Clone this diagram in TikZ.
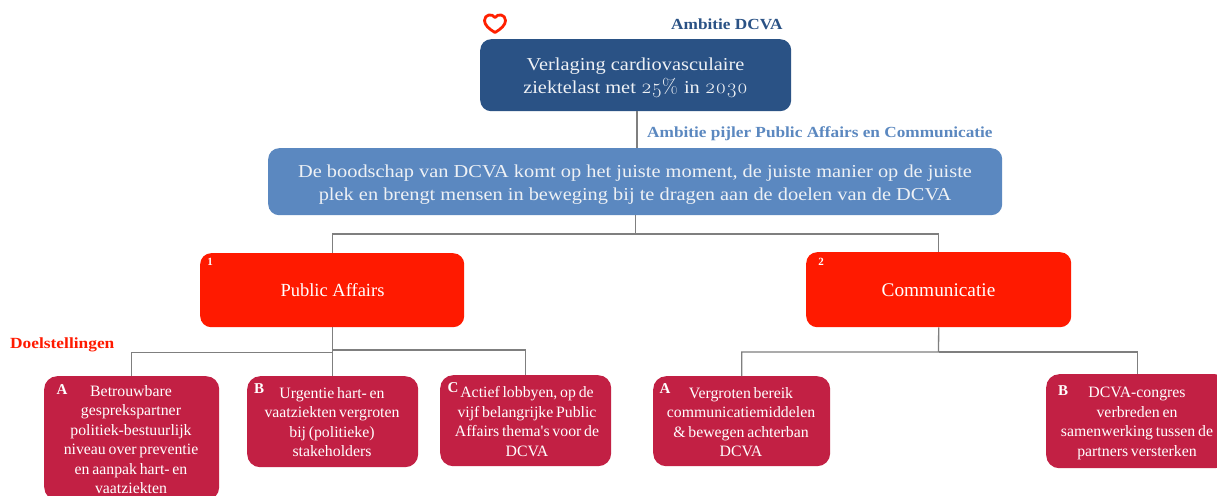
\documentclass[tikz,border=0pt]{standalone}
\usepackage{fontspec}
\setmainfont{Liberation Serif}
\newfontfamily\widefont[FakeStretch=1.12]{Liberation Serif}
\newfontfamily\goalfont[WordSpace=0.7]{Liberation Serif}
\newfontfamily\oldnums[Numbers=OldStyle,Scale=1.12]{Latin Modern Roman}
\definecolor{navy}{HTML}{2A5285}
\definecolor{midblue}{HTML}{5B88C0}
\definecolor{brightred}{HTML}{FF1A00}
\definecolor{crimson}{HTML}{C22044}
\definecolor{linegrey}{HTML}{7F7F7F}
\tikzset{
  x=1pt,y=-1pt,
  boxbase/.style={rounded corners=11pt,inner sep=0pt,anchor=north west},
  navybox/.style={boxbase,fill=navy},
  bluebox/.style={boxbase,fill=midblue},
  redbox/.style={boxbase,fill=brightred},
  goalbox/.style={boxbase,fill=crimson,rounded corners=13pt},
  headtext/.style={inner sep=0pt,align=center,text=white!92!navy,font=\widefont\fontsize{18.2}{23}\selectfont},
  redtext/.style={inner sep=0pt,text=white},
  goaltext/.style={inner sep=0pt,align=center,text=white,anchor=north,font=\goalfont\fontsize{15.8}{19.5}\selectfont},
  letter/.style={text=white,font=\bfseries\fontsize{15}{15}\selectfont,inner sep=0pt},
  numlabel/.style={text=white,font=\bfseries\fontsize{11}{11}\selectfont,inner sep=0pt},
  heading/.style={font=\bfseries\widefont\fontsize{15.4}{17}\selectfont,inner sep=0pt,anchor=west},
  wire/.style={draw=linegrey,line width=1.3pt},
}
\begin{document}
\begin{tikzpicture}
\useasboundingbox (0,0) rectangle (1217,495);
\fill[white] (0,0) rectangle (1217,495);

\node[navybox,minimum width=311pt,minimum height=72pt] (top) at (480,39) {};
\node[bluebox,minimum width=734pt,minimum height=67pt] (mid) at (268,148) {};
\node[redbox,minimum width=264pt,minimum height=74pt] (pa) at (200,253) {};
\node[redbox,minimum width=265pt,minimum height=75pt] (comm) at (806,252) {};
\node[goalbox,minimum width=175pt,minimum height=124pt] (ga) at (44,376) {};
\node[goalbox,minimum width=171pt,minimum height=91pt] (gb) at (247,376) {};
\node[goalbox,minimum width=171pt,minimum height=91pt] (gc) at (440,375) {};
\node[goalbox,minimum width=177pt,minimum height=90pt] (ha) at (653,376) {};
\node[goalbox,minimum width=182pt,minimum height=94pt] (hb) at (1046,374) {};

\node[headtext] (topt) at (635.5,78) {Verlaging cardiovasculaire\\ziektelast met {\oldnums 25\% }in {\oldnums 2030}};
\node[headtext] (midt) at (635,185) {De boodschap van DCVA komt op het juiste moment, de juiste manier op de juiste\\plek en brengt mensen in beweging bij te dragen aan de doelen van de DCVA};
\node[redtext,font=\fontsize{18.5}{20}\selectfont] (pat) at (332.5,290) {Public Affairs};
\node[redtext,font=\fontsize{19.3}{20}\selectfont] (commt) at (938.5,290) {Communicatie};

\node[goaltext] (gat) at (131,385) {Betrouwbare\\gesprekspartner\\politiek-bestuurlijk\\niveau over preventie\\en aanpak hart- en\\vaatziekten};
\node[goaltext] (gbt) at (332,387) {Urgentie hart- en\\vaatziekten vergroten\\bij (politieke)\\stakeholders};
\node[goaltext] (gct) at (527,386.5) {Actief lobbyen, op de\\vijf belangrijke Public\\Affairs thema's voor de\\DCVA};
\node[goaltext] (hat) at (741,387) {Vergroten bereik\\communicatiemiddelen\\\& bewegen achterban\\DCVA};
\node[goaltext] (hbt) at (1137,387) {DCVA-congres\\verbreden en\\samenwerking tussen de\\partners versterken};

\node[letter] (la) at (62,390) {A};
\node[letter] (lb) at (259,389) {B};
\node[letter] (lc) at (453,388) {C};
\node[letter] (lha) at (665,389) {A};
\node[letter] (lhb) at (1063,391) {B};
\node[numlabel] (n1) at (210,262) {1};
\node[numlabel] (n2) at (821,262) {2};

\node[heading,text=navy] (h1) at (671,24) {Ambitie DCVA};
\node[heading,text=midblue] (h2) at (647,134) {Ambitie pijler Public Affairs en Communicatie};
\node[heading,text=brightred,font=\bfseries\widefont\fontsize{15.5}{17}\selectfont] (h3) at (10,345) {Doelstellingen};

\coordinate (t0) at (637,111);
\coordinate (j0) at (636,234);
\coordinate (j1l) at (332,352.5);
\coordinate (j1r) at (332,350);
\coordinate (j2) at (938.5,352);

\draw[wire] (t0) -- (t0 |- mid.north);
\draw[wire] (mid.south) -- (mid.south |- j0) -| (pa.north);
\draw[wire] (mid.south |- j0) -| (comm.north);
\draw[wire] (pa.south) -- (pa.south |- gb.north);
\draw[wire] (j1l) -| (ga.north);
\draw[wire] (j1r) -| (gc.north);
\draw[wire] (comm.south) -- (j2) -| (ha.north);
\draw[wire] (j2) -| (hb.north);

% heart
\draw[draw=red!75!orange,line width=2.8pt,fill=white,line join=round]
  (495,32.5) .. controls (489,29) and (484.5,25) .. (484.5,20.5)
  .. controls (484.5,14.5) and (492,13) .. (495,17.5)
  .. controls (498,13) and (505.5,14.5) .. (505.5,20.5)
  .. controls (505.5,25) and (501,29) .. (495,32.5) -- cycle;
\end{tikzpicture}
\end{document}
